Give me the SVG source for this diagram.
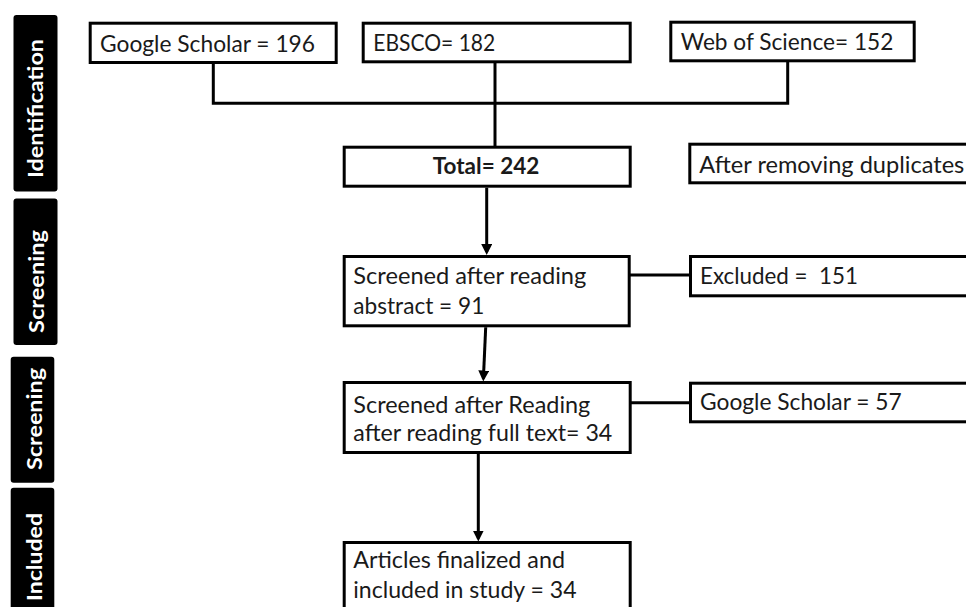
<svg xmlns="http://www.w3.org/2000/svg" width="966" height="607" viewBox="0 0 966 607">
<style>
.box{fill:#fff;stroke:#000;stroke-width:3}
.stage{fill:#000}
.t{font-family:Lato,"Open Sans","Liberation Sans",sans-serif;font-size:23px;fill:#1a1a1a;white-space:pre}
.b{font-weight:bold}
.st{font-family:Lato,"Open Sans","Liberation Sans",sans-serif;font-size:21px;font-weight:bold;fill:#fff}
.c{fill:none;stroke:#000;stroke-width:3}
</style>
<defs>
<marker id="ah" markerUnits="userSpaceOnUse" markerWidth="12" markerHeight="12" refX="8" refY="5.5" orient="auto">
<path d="M0,0 L11,5.5 L0,11 z" fill="#000"/>
</marker>
</defs>
<g id="stages">
<g id="stage-identification"><rect class="stage" x="13.5" y="15" width="44" height="176.5" rx="3"/><text class="st" transform="translate(43,108.5) rotate(-90)" text-anchor="middle" textLength="139" lengthAdjust="spacingAndGlyphs">Identification</text></g>
<g id="stage-screening1"><rect class="stage" x="13.5" y="198.5" width="44" height="146.5" rx="3"/><text class="st" transform="translate(43.5,281.5) rotate(-90)" text-anchor="middle" textLength="103" lengthAdjust="spacingAndGlyphs">Screening</text></g>
<g id="stage-screening2"><rect class="stage" x="10.7" y="356.7" width="43.6" height="126" rx="3"/><text class="st" transform="translate(41.5,419) rotate(-90)" text-anchor="middle" textLength="102" lengthAdjust="spacingAndGlyphs">Screening</text></g>
<g id="stage-included"><rect class="stage" x="10.7" y="487.7" width="43.6" height="135" rx="3"/><text class="st" transform="translate(41.5,557) rotate(-90)" text-anchor="middle" textLength="88" lengthAdjust="spacingAndGlyphs">Included</text></g>
</g>
<g id="connectors">
<path class="c" d="M213.3,63 V103.3 H787.7 V62"/>
<path class="c" d="M495,63 V147"/>
<path class="c" d="M486.7,187.7 V252" marker-end="url(#ah)"/>
<path class="c" d="M485.7,327.3 L483.4,378.5" marker-end="url(#ah)"/>
<path class="c" d="M478.3,454 V538.5" marker-end="url(#ah)"/>
<path class="c" d="M630,275 H690"/>
<path class="c" d="M630,402.7 H690"/>
</g>
<g id="n-gs196"><rect class="box" x="90.2" y="23.2" width="246" height="39.3"/><text class="t" x="100" y="51.7" textLength="215" lengthAdjust="spacingAndGlyphs">Google Scholar = 196</text></g>
<g id="n-ebsco"><rect class="box" x="363.2" y="23.2" width="267" height="38.6"/><text class="t" x="373.3" y="50.7" textLength="122" lengthAdjust="spacingAndGlyphs">EBSCO= 182</text></g>
<g id="n-wos"><rect class="box" x="670.8" y="22.2" width="243.4" height="38.6"/><text class="t" x="680.7" y="50" textLength="212.7" lengthAdjust="spacingAndGlyphs">Web of Science= 152</text></g>
<g id="n-total"><rect class="box" x="344.2" y="147.2" width="286" height="39"/><text class="t b" x="432.7" y="174" textLength="106.7" lengthAdjust="spacingAndGlyphs">Total= 242</text></g>
<g id="n-dup"><rect class="box" x="689.8" y="144.2" width="300" height="38.6"/><text class="t" x="699.3" y="172.7" textLength="265" lengthAdjust="spacingAndGlyphs">After removing duplicates</text></g>
<g id="n-abstract"><rect class="box" x="344.2" y="256.5" width="285" height="69.3"/><text class="t" x="353.3" y="284.3" textLength="233" lengthAdjust="spacingAndGlyphs">Screened after reading</text><text class="t" x="353.3" y="314" textLength="131" lengthAdjust="spacingAndGlyphs">abstract = 91</text></g>
<g id="n-excluded"><rect class="box" x="690.5" y="256.5" width="300" height="39.3"/><text class="t" x="700" y="284" textLength="158" lengthAdjust="spacingAndGlyphs">Excluded =  151</text></g>
<g id="n-fulltext"><rect class="box" x="344.2" y="382.5" width="286" height="70"/><text class="t" x="353.3" y="413.3" textLength="237" lengthAdjust="spacingAndGlyphs">Screened after Reading</text><text class="t" x="353.3" y="440.7" textLength="259" lengthAdjust="spacingAndGlyphs">after reading full text= 34</text></g>
<g id="n-gs57"><rect class="box" x="690.5" y="383.2" width="300" height="38.6"/><text class="t" x="700" y="410" textLength="201.7" lengthAdjust="spacingAndGlyphs">Google Scholar = 57</text></g>
<g id="n-final"><rect class="box" x="344.2" y="542.5" width="286" height="90"/><text class="t" x="353.3" y="568.3" textLength="211.7" lengthAdjust="spacingAndGlyphs">Articles finalized and</text><text class="t" x="353.3" y="598.3" textLength="223.3" lengthAdjust="spacingAndGlyphs">included in study = 34</text></g>
</svg>
